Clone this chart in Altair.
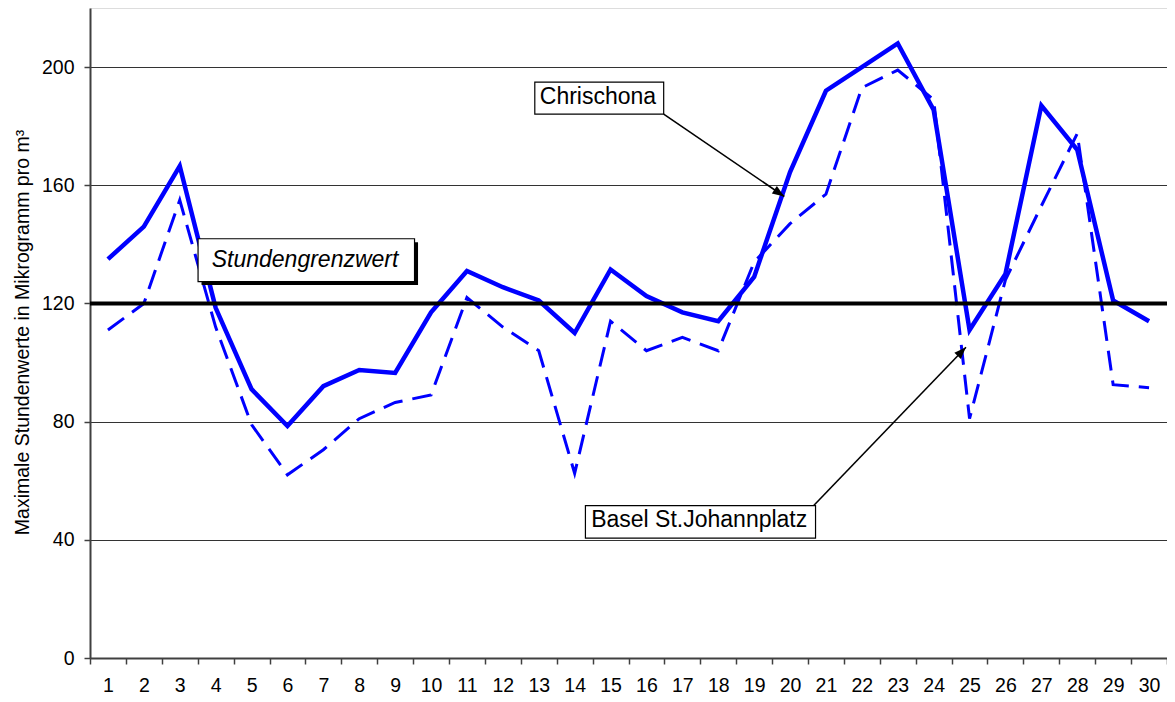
import altair as alt
import pandas as pd

# ---------------- data ----------------
days = list(range(1, 31))
chrischona = [135, 146, 166.5, 118.5, 91, 78.5, 92, 97.5, 96.5, 117,
              131, 125.5, 121, 110, 131.5, 122.5, 117, 114, 129, 164.5,
              192, 200, 208, 185.5, 111, 130, 187, 172, 121, 114]
basel = [111, 120, 155, 112, 79, 62, 70.5, 81, 86.5, 89,
         122, 112, 104, 62.5, 114, 104, 108.5, 104, 134, 147,
         157, 193, 199, 189, 81, 128, 153, 177.5, 92.5, 91.5]
grenzwert = 120
y_ticks = [0, 40, 80, 120, 160, 200]

# annotation texts and their anchor positions (day, value units)
label_texts = ["Stundengrenzwert", "Chrischona", "Basel St.Johannplatz"]
label_day = [6.49, 14.65, 17.47]
label_val = [134.8, 190.0, 46.8]

# boxes behind the labels (day / value units)
box_day1 = [3.51, 12.89, 14.30]
box_day2 = [9.54, 16.48, 20.71]
box_val1 = [127.4, 184.1, 40.6]
box_val2 = [141.9, 194.9, 51.6]

# arrows (start -> tip), day / value units, plus pixel-space heading
arrow_day1 = [16.48, 20.66]
arrow_val1 = [184.1, 51.6]
arrow_day2 = [19.84, 24.90]
arrow_val2 = [156.2, 105.2]
arrow_heading = [124, 44]

FONT = "Liberation Sans, Arial, sans-serif"
BLUE = "#0000FF"

df_c = pd.DataFrame({"Tag": days, "Wert": chrischona})
df_b = pd.DataFrame({"Tag": days, "Wert": basel})
df_g = pd.DataFrame({"Wert": [grenzwert]})

y_scale = alt.Scale(domain=[0, 220], nice=False, zero=True)
y_axis = alt.Axis(
    values=y_ticks,
    title="Maximale Stundenwerte in Mikrogramm pro m³",
    titleFont=FONT, titleFontSize=19.5, titleFontWeight="normal", titleColor="black",
    titleX=-62, titleY=324, titleBaseline="alphabetic", titleAlign="center",
    labelFont=FONT, labelFontSize=19.5, labelColor="black", labelPadding=10,
    tickSize=6, tickColor="#404040", tickWidth=1.5,
    domainColor="#404040", domainWidth=2,
    grid=True, gridColor="#333333", gridWidth=1,
)
x_axis = alt.Axis(
    title=None, labelAngle=0, labelFont=FONT, labelFontSize=19.5, labelColor="black",
    labelPadding=12, tickBand="extent", tickSize=6, tickColor="#404040", tickWidth=1.5,
    domainColor="#404040", domainWidth=2, grid=False,
)
x_enc = alt.X("Tag:O", scale=alt.Scale(type="band", domain=days, paddingInner=0, paddingOuter=0),
              axis=x_axis)

line_c = alt.Chart(df_c).mark_line(color=BLUE, strokeWidth=4.5).encode(
    x=x_enc, y=alt.Y("Wert:Q", scale=y_scale, axis=y_axis))
line_b = alt.Chart(df_b).mark_line(color=BLUE, strokeWidth=3, strokeDash=[20, 10]).encode(
    x=x_enc, y=alt.Y("Wert:Q", scale=y_scale, axis=y_axis))
rule_g = alt.Chart(df_g).mark_rule(color="black", strokeWidth=4).encode(
    y=alt.Y("Wert:Q", scale=y_scale, axis=y_axis))

data_layer = alt.layer(line_c, line_b, rule_g)

# ---------------- annotation layer (own linear x scale over the same days) ----------------
ax_scale = alt.Scale(domain=[0.5, 30.5], nice=False, zero=False)

df_box = pd.DataFrame({"d1": box_day1, "d2": box_day2, "v1": box_val1, "v2": box_val2})
df_lab = pd.DataFrame({"d": label_day, "v": label_val, "t": label_texts})
df_arr = pd.DataFrame({"d1": arrow_day1, "v1": arrow_val1, "d2": arrow_day2,
                       "v2": arrow_val2, "h": arrow_heading})

shadow = alt.Chart(df_box.iloc[[0]]).mark_rect(color="black", xOffset=3.5, x2Offset=3.5,
                                               yOffset=3.5, y2Offset=3.5).encode(
    x=alt.X("d1:Q", scale=ax_scale, axis=None), x2="d2:Q",
    y=alt.Y("v1:Q", scale=y_scale, axis=y_axis), y2="v2:Q")
boxes = alt.Chart(df_box).mark_rect(fill="white", stroke="black", strokeWidth=1.2).encode(
    x=alt.X("d1:Q", scale=ax_scale, axis=None), x2="d2:Q",
    y=alt.Y("v1:Q", scale=y_scale, axis=y_axis), y2="v2:Q")
labels_it = alt.Chart(df_lab.iloc[[0]]).mark_text(
    font=FONT, fontSize=23, fontStyle="italic", color="black", baseline="middle", align="center").encode(
    x=alt.X("d:Q", scale=ax_scale, axis=None),
    y=alt.Y("v:Q", scale=y_scale, axis=y_axis), text="t:N")
labels_rm = alt.Chart(df_lab.iloc[1:]).mark_text(
    font=FONT, fontSize=23, color="black", baseline="middle", align="center").encode(
    x=alt.X("d:Q", scale=ax_scale, axis=None),
    y=alt.Y("v:Q", scale=y_scale, axis=y_axis), text="t:N")
arrows = alt.Chart(df_arr).mark_rule(color="black", strokeWidth=1.6).encode(
    x=alt.X("d1:Q", scale=ax_scale, axis=None), x2="d2:Q",
    y=alt.Y("v1:Q", scale=y_scale, axis=y_axis), y2="v2:Q")
heads = alt.Chart(df_arr).mark_point(
    shape="M0,0L-0.75,2L0.75,2Z", filled=True, size=144, color="black", opacity=1).encode(
    x=alt.X("d2:Q", scale=ax_scale, axis=None),
    y=alt.Y("v2:Q", scale=y_scale, axis=y_axis),
    angle=alt.Angle("h:Q", scale=None))

annot_layer = alt.layer(shadow, boxes, labels_it, labels_rm, arrows, heads)

chart = alt.layer(data_layer, annot_layer).resolve_scale(x="independent").properties(
    width=1077, height=650,
    autosize=alt.AutoSizeParams(type="none"),
    padding={"left": 82, "top": 0, "right": 0, "bottom": 36},
).configure_view(fill="#FFFFCC", stroke="#9a9a9a", strokeWidth=1).configure(background="white")

chart.save("out.html", embed_options={"renderer": "svg", "actions": False})
